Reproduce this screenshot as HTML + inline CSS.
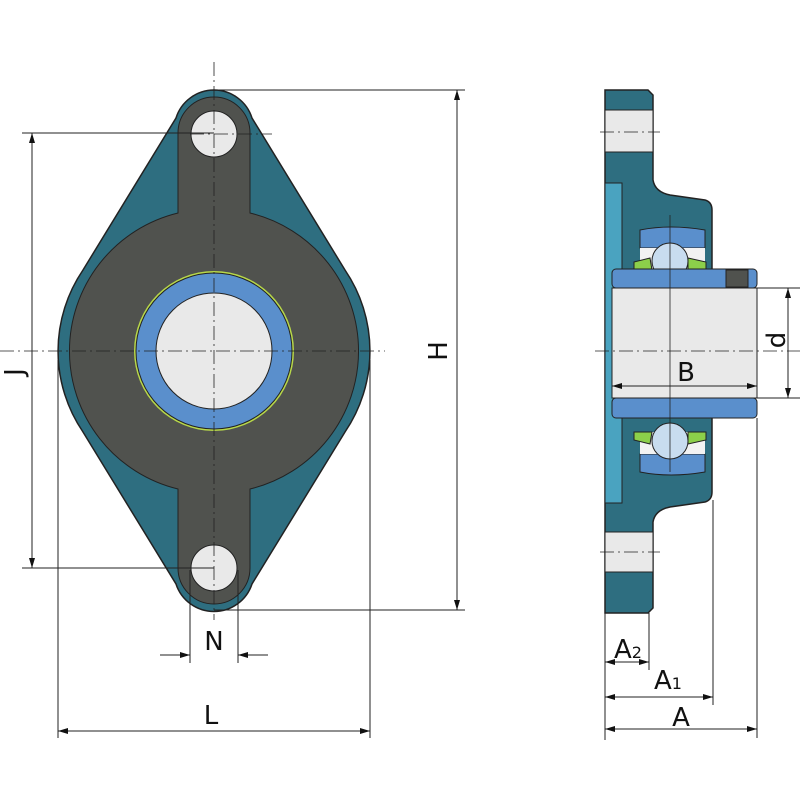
<!DOCTYPE html>
<html><head><meta charset="utf-8"><style>
html,body{margin:0;padding:0;background:#fff;width:800px;height:800px;overflow:hidden}
text{font-family:"DejaVu Sans","Liberation Sans",sans-serif;fill:#111}
</style></head><body>
<svg width="800" height="800" viewBox="0 0 800 800" xmlns="http://www.w3.org/2000/svg">
<defs>
<marker id="a" viewBox="0 0 10 6" refX="10" refY="3" markerWidth="14" markerHeight="6" markerUnits="userSpaceOnUse" orient="auto-start-reverse"><path d="M0,0 L10,3 L0,6 z" fill="#111"/></marker>
</defs>
<g stroke="#222" stroke-width="1">
<path d="M214 90 A40 40 0 0 1 252 118 L345 270 A144 144 0 0 1 345 432 L252 584 A40 40 0 0 1 176 584 L83 432 A144 144 0 0 1 83 270 L176 118 A40 40 0 0 1 214 90 Z" fill="#2e6e80" stroke-width="1.5"/>
<path d="M178 133 A36 36 0 0 1 250 133 L250 213 A142 142 0 0 1 250 489 L250 568 A36 36 0 0 1 178 568 L178 489 A142 142 0 0 1 178 213 Z" fill="#50524e"/>
<circle cx="214" cy="351" r="80" fill="#b8d84a" stroke="none"/>
<circle cx="214" cy="351" r="78" fill="#5a8fcc"/>
<circle cx="214" cy="351" r="58" fill="#e9e9e9"/>
<circle cx="214" cy="134" r="23" fill="#e9e9e9"/>
<circle cx="214" cy="568" r="23" fill="#e9e9e9"/>
</g>
<g stroke="#222" stroke-width="1">
<path d="M605 90 L648 90 L653 95 L653 180 Q655 192 670 195 L705 200 Q712 202 712 210 L712 492 Q712 500 705 502 L670 507 Q655 510 653 522 L653 608 L648 613 L605 613 Z" fill="#2e6e80" stroke-width="1.5"/>
<rect x="605" y="183" width="17" height="320" fill="#4aa3c0"/>
<rect x="605" y="110" width="48" height="42" fill="#e9e9e9"/>
<rect x="605" y="532" width="48" height="40" fill="#e9e9e9"/>
<path d="M640 230 Q670 224 705 230 L705 248 L640 248 Z" fill="#5a8fcc"/>
<path d="M640 454 L705 454 L705 472 Q670 478 640 472 Z" fill="#5a8fcc"/>
<rect x="640" y="248" width="65" height="22" fill="#f2f2f2" stroke="none"/>
<rect x="640" y="432" width="65" height="22" fill="#f2f2f2" stroke="none"/>
<path d="M634 262 L650 258 L652 270 L634 270 Z M688 258 L706 262 L706 270 L688 270 Z" fill="#8ccf4a"/>
<path d="M634 432 L652 432 L650 444 L634 440 Z M688 432 L706 432 L706 440 L688 444 Z" fill="#8ccf4a"/>
<circle cx="670" cy="261" r="18" fill="#c8dcef"/>
<circle cx="670" cy="441" r="18" fill="#c8dcef"/>
<rect x="612" y="269" width="145" height="19" rx="4" fill="#5a8fcc"/>
<rect x="612" y="398" width="145" height="20" rx="4" fill="#5a8fcc"/>
<rect x="612" y="288" width="145" height="110" fill="#e9e9e9"/>
<rect x="726" y="270" width="22" height="17" fill="#50524e"/>
</g>
<g stroke="#222" stroke-width="0.8" stroke-dasharray="14,4,2,4" fill="none">
<line x1="0" y1="351" x2="385" y2="351"/>
<line x1="214" y1="62" x2="214" y2="620"/>
<line x1="595" y1="351" x2="800" y2="351"/>
<line x1="600" y1="132" x2="660" y2="132"/>
<line x1="600" y1="552" x2="660" y2="552"/>
<line x1="190" y1="134" x2="272" y2="134"/>
</g>
<line x1="670" y1="215" x2="670" y2="472" stroke="#222" stroke-width="0.8"/>
<g stroke="#222" stroke-width="1" fill="none">
<line x1="214" y1="90" x2="465" y2="90"/>
<line x1="214" y1="610" x2="465" y2="610"/>
<line x1="457" y1="90" x2="457" y2="610" marker-start="url(#a)" marker-end="url(#a)"/>
<line x1="22" y1="133" x2="214" y2="133"/>
<line x1="22" y1="568" x2="214" y2="568"/>
<line x1="32" y1="133" x2="32" y2="568" marker-start="url(#a)" marker-end="url(#a)"/>
<line x1="58" y1="360" x2="58" y2="738"/>
<line x1="370" y1="360" x2="370" y2="738"/>
<line x1="58" y1="731" x2="370" y2="731" marker-start="url(#a)" marker-end="url(#a)"/>
<line x1="190" y1="570" x2="190" y2="663"/>
<line x1="238" y1="570" x2="238" y2="663"/>
<line x1="160" y1="655" x2="190" y2="655" marker-end="url(#a)"/>
<line x1="268" y1="655" x2="238" y2="655" marker-end="url(#a)"/>
<line x1="757" y1="288" x2="800" y2="288"/>
<line x1="757" y1="398" x2="800" y2="398"/>
<line x1="788" y1="288" x2="788" y2="398" marker-start="url(#a)" marker-end="url(#a)"/>
<line x1="612" y1="386" x2="757" y2="386" marker-start="url(#a)" marker-end="url(#a)"/>
<line x1="605" y1="613" x2="605" y2="740"/>
<line x1="649" y1="613" x2="649" y2="670"/>
<line x1="713" y1="500" x2="713" y2="705"/>
<line x1="757" y1="418" x2="757" y2="738"/>
<line x1="605" y1="662" x2="649" y2="662" marker-start="url(#a)" marker-end="url(#a)"/>
<line x1="605" y1="697" x2="713" y2="697" marker-start="url(#a)" marker-end="url(#a)"/>
<line x1="605" y1="729" x2="757" y2="729" marker-start="url(#a)" marker-end="url(#a)"/>
</g>
<g font-size="26">
<text x="438" y="351" text-anchor="middle" transform="rotate(-90 438 351)" dy="9">H</text>
<text x="14" y="372" text-anchor="middle" transform="rotate(-90 14 372)" dy="9">J</text>
<text x="211" y="724" text-anchor="middle">L</text>
<text x="214" y="650" text-anchor="middle">N</text>
<text x="686" y="381" text-anchor="middle">B</text>
<text x="776" y="340" text-anchor="middle" transform="rotate(-90 776 340)" dy="9">d</text>
<text x="614" y="658">A<tspan font-size="16">2</tspan></text>
<text x="654" y="689">A<tspan font-size="16">1</tspan></text>
<text x="681" y="726" text-anchor="middle">A</text>
</g>
</svg>
</body></html>
